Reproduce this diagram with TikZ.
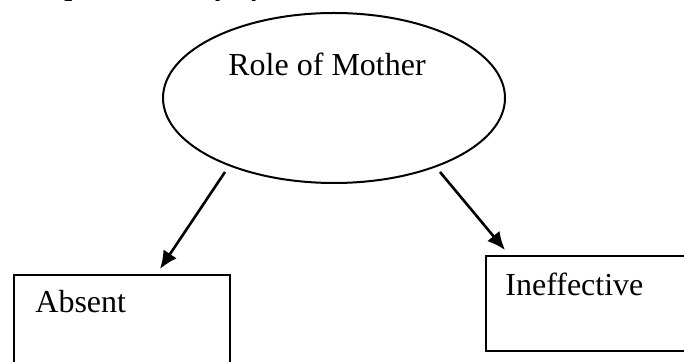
\documentclass[tikz,border=0pt]{standalone}
\usepackage{fontspec}
\setmainfont{Liberation Serif}
\usetikzlibrary{shapes.geometric,arrows.meta}
\tikzset{
  roleoval/.style={draw, ellipse, line width=1pt, minimum width=171pt, minimum height=85pt, inner sep=0pt},
  choicebox/.style={draw, rectangle, line width=1pt, anchor=north west, inner sep=0pt},
  boxtext/.style={anchor=base west, inner sep=0pt, font=\fontsize{16}{19}\selectfont},
  linkarrow/.style={line width=1.3pt, -{Latex[length=9pt,width=8pt]}}
}
\begin{document}
\begin{tikzpicture}[x=0.5pt,y=-0.5pt]
    \useasboundingbox (0,0) rectangle (684,362);
    \clip (0,0) rectangle (684,362);
    % heading, cut off at the top of the page
    \node[anchor=base west, inner sep=0pt, font=\fontsize{14}{16}\selectfont\bfseries\itshape] (heading) at (18,-4) {Chapter Summary of};
    \node[roleoval] (mother) at (334,98) {};
    \node[boxtext] (mothertxt) at (228,76) {Role of Mother};
    \node[choicebox, minimum width=108pt, minimum height=60pt] (absent) at (13,274) {};
    \node[boxtext] (absenttxt) at (35,313) {Absent};
    \node[choicebox, minimum width=110pt, minimum height=47.5pt] (ineff) at (485,255) {};
    \node[boxtext] (inefftxt) at (505,296) {Ineffective};
    \coordinate (leftfrom) at (225,172);
    \coordinate (leftto) at (160,269);
    \coordinate (rightfrom) at (440,172);
    \coordinate (rightto) at (505,250);
    \draw[linkarrow] (leftfrom) -- (leftto);
    \draw[linkarrow] (rightfrom) -- (rightto);
\end{tikzpicture}
\end{document}
